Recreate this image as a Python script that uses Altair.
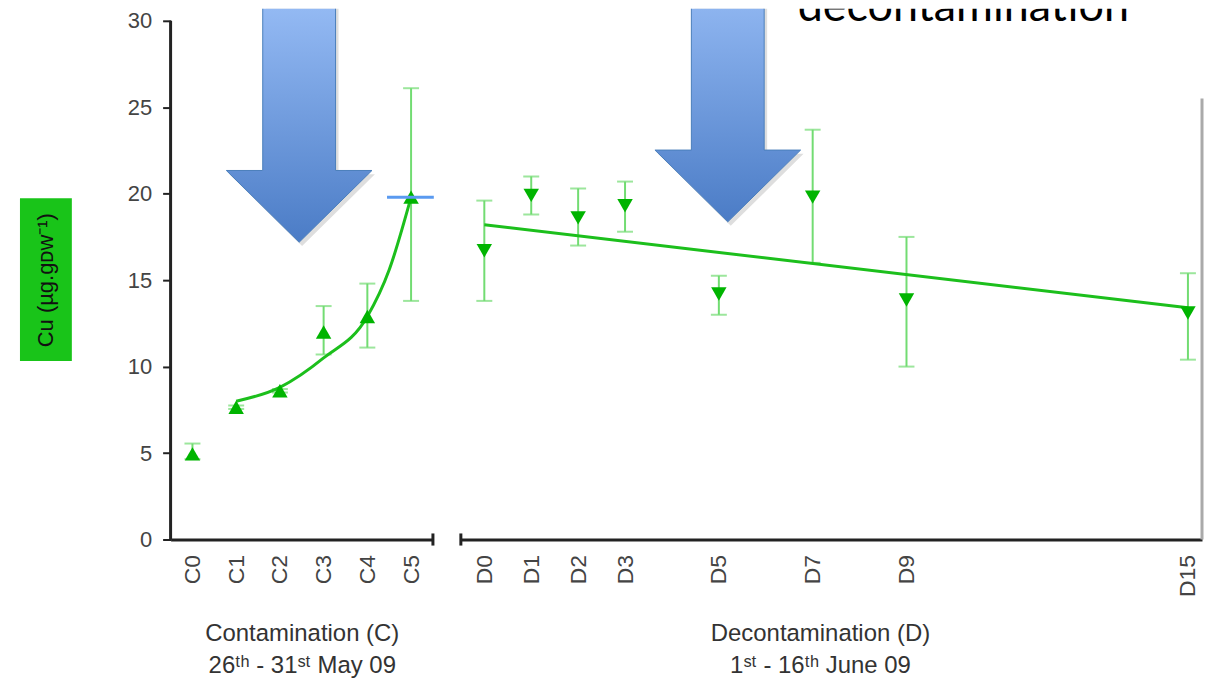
import altair as alt
import pandas as pd

# ---------------- data ----------------
C_labels = ["C0", "C1", "C2", "C3", "C4", "C5"]
C_idx = [0, 1, 2, 3, 4, 5]
C_mean = [4.95, 7.65, 8.6, 12.0, 12.9, 19.8]
C_low = [4.65, 7.55, 8.5, 10.7, 11.1, 13.8]
C_high = [5.55, 7.75, 8.7, 13.5, 14.8, 26.1]
C_fit_x = [1, 2, 3, 4, 4.5, 5]
C_fit_y = [8.0, 8.8, 10.5, 12.9, 15.6, 19.8]

D_labels = ["D0", "D1", "D2", "D3", "D5", "D7", "D9", "D15"]
D_days = [0, 1, 2, 3, 5, 7, 9, 15]
D_mean = [16.7, 19.9, 18.6, 19.3, 14.2, 19.8, 13.85, 13.1]
D_low = [13.8, 18.8, 17.0, 17.8, 13.0, 16.0, 10.0, 10.4]
D_high = [19.6, 21.0, 20.3, 20.7, 15.25, 23.7, 17.5, 15.4]
D_fit_x = [0, 15]
D_fit_y = [18.2, 13.4]

Y_ticks = [0, 5, 10, 15, 20, 25, 30]

C_title = ["Contamination (C)", "26ᵗʰ - 31ˢᵗ May 09"]
D_title = ["Decontamination (D)", "1ˢᵗ - 16ᵗʰ June 09"]
Y_title = "Cu (µg.gᴅᴡ⁻¹)"
TOP_TEXT = "decontamination"

# arrow annotations: tip position (x, y) in each panel's data units
ARROW_C_tip = [2.44, 17.19]
ARROW_D_tip = [5.19, 18.37]
ARROW_PATH = "M0,0L-1,-0.986L-0.5,-0.986L-0.5,-4L0.5,-4L0.5,-0.986L1,-0.986Z"
ARROW_SIZE = 146 * 146

# ---------------- styles ----------------
MK = "#00b400"
LINE = "#1cbf1c"
EB = "#72dc72"
AX = "#222222"
LAB = "#444444"
FONT = "Liberation Sans"
H = 532
WC = 263
WD = 743

yscale = alt.Scale(domain=[0, 30.69], nice=False, zero=False)
cscale = alt.Scale(domain=[-0.5, 5.5], nice=False, zero=False)
dscale = alt.Scale(domain=[-0.5, 15.3], nice=False, zero=False)

c_lab_expr = "[" + ",".join("'%s'" % l for l in C_labels) + "][datum.value]"
d_lab_expr = "'D' + datum.value"


def xaxis(values, expr, title, title_x=None):
    kw = dict(
        values=values, labelExpr=expr, labelAngle=270, labelFontSize=23,
        labelColor=LAB, labelFont=FONT, ticks=False, tickSize=0, labelPadding=15,
        labelOverlap=False, domainColor=AX, domainWidth=3, grid=False,
        title=title, titleFont=FONT, titleFontSize=24, titleFontWeight="normal",
        titleColor="#333333", titleBaseline="top", titleY=82, titleLineHeight=32,
    )
    if title_x is not None:
        kw["titleX"] = title_x
    return alt.Axis(**kw)


c_xaxis = xaxis(C_idx, c_lab_expr, C_title)
d_xaxis = xaxis(D_days, d_lab_expr, D_title, title_x=360)
c_yaxis = alt.Axis(values=Y_ticks, domain=False, tickSize=8, tickWidth=2, tickColor=AX,
                   labelFontSize=22, labelColor=LAB, labelFont=FONT, labelPadding=11,
                   grid=False, title=None)

grad = alt.LinearGradient(
    gradient="linear", x1=0, y1=0, x2=0, y2=1,
    stops=[alt.GradientStop(offset=0, color="#b4d1fa"),
           alt.GradientStop(offset=0.2, color="#93b9f3"),
           alt.GradientStop(offset=1, color="#4b7cc6")],
)


def panel(xscale, xax, yax, idx, mean, low, high, fx, fy, shape, extra, width):
    X = lambda f="x": alt.X(f, type="quantitative", scale=xscale, axis=xax)
    Y = lambda f="y": alt.Y(f, type="quantitative", scale=yscale, axis=yax)
    pts = pd.DataFrame({"x": idx, "y": mean, "lo": low, "hi": high})
    caps = pd.DataFrame({"x": idx + idx, "y": low + high})
    fit = pd.DataFrame({"x": fx, "y": fy})

    err = alt.Chart(pts).mark_rule(color=EB, strokeWidth=2).encode(
        x=X(), y=Y("lo"), y2="hi")
    cap = alt.Chart(caps).mark_tick(orient="horizontal", size=16, thickness=2, color=EB).encode(
        x=X(), y=Y())
    line = alt.Chart(fit).mark_line(color=LINE, strokeWidth=3, interpolate="monotone").encode(
        x=X(), y=Y())
    mk = alt.Chart(pts).mark_point(shape=shape, filled=True, size=240, color=MK, opacity=1).encode(
        x=X(), y=Y())
    layers = [err, cap, line, mk]
    for e in extra:
        layers.append(e(X, Y))
    return alt.layer(*layers).properties(width=width, height=H)


def arrow_layers(tip, dxu):
    def f(X, Y):
        shadow = pd.DataFrame({"x": [tip[0] + dxu], "y": [tip[1] - 0.22]})
        main = pd.DataFrame({"x": [tip[0]], "y": [tip[1]]})
        sh = alt.Chart(shadow).mark_point(
            shape=ARROW_PATH, size=ARROW_SIZE, filled=True, color="#000000",
            opacity=0.13, strokeWidth=0, clip=True).encode(x=X(), y=Y())
        ar = alt.Chart(main).mark_point(
            shape=ARROW_PATH, size=ARROW_SIZE, filled=True, fill=grad, opacity=1,
            fillOpacity=1, stroke="#4a7ebb", strokeWidth=1, clip=True).encode(x=X(), y=Y())
        return alt.layer(sh, ar)
    return f


# ---- extra layers for the C panel ----
def c_axisline(X, Y):
    df = pd.DataFrame({"x": [-0.5], "y": [0], "y2": [30]})
    return alt.Chart(df).mark_rule(color=AX, strokeWidth=3).encode(x=X(), y=Y(), y2="y2")


def c_endcap(X, Y):
    df = pd.DataFrame({"x": [5.5], "y": [-0.35], "y2": [0.35]})
    return alt.Chart(df).mark_rule(color=AX, strokeWidth=3).encode(x=X(), y=Y(), y2="y2")


def c_blue(X, Y):
    df = pd.DataFrame({"x": [4.45], "x2": [5.52], "y": [19.8]})
    return alt.Chart(df).mark_rule(color="#5a9af0", strokeWidth=3).encode(x=X(), x2="x2", y=Y())


def c_box(X, Y):
    return alt.Chart(pd.DataFrame({"a": [0]})).mark_rect(color="#19c419").encode(
        x=alt.value(-151), x2=alt.value(-99), y=alt.value(190), y2=alt.value(353))


def c_ytext(X, Y):
    return alt.Chart(pd.DataFrame({"a": [0]})).mark_text(
        text=Y_title, angle=270, fontSize=22, font=FONT, color="#111111",
        align="center", baseline="middle").encode(x=alt.value(-125), y=alt.value(272))


# ---- extra layers for the D panel ----
def d_startcap(X, Y):
    df = pd.DataFrame({"x": [-0.5], "y": [-0.35], "y2": [0.35]})
    return alt.Chart(df).mark_rule(color=AX, strokeWidth=3).encode(x=X(), y=Y(), y2="y2")


def d_edge(X, Y):
    df = pd.DataFrame({"x": [15.3], "y": [0], "y2": [25.5]})
    return alt.Chart(df).mark_rule(color="#aaaaaa", strokeWidth=3).encode(x=X(), y=Y(), y2="y2")


def d_text(X, Y):
    df = pd.DataFrame({"x": [6.68], "y": [30.0], "t": [TOP_TEXT]})
    return alt.Chart(df).mark_text(
        font="Lato", fontSize=45, color="#000000", align="left", baseline="alphabetic",
        clip=True).encode(x=X(), y=Y(), text="t:N")


left = panel(cscale, c_xaxis, c_yaxis, C_idx, C_mean, C_low, C_high, C_fit_x, C_fit_y,
             "triangle-up",
             [c_axisline, c_endcap, c_blue, arrow_layers(ARROW_C_tip, 0.068), c_box, c_ytext], WC)
right = panel(dscale, d_xaxis, None, D_days, D_mean, D_low, D_high, D_fit_x, D_fit_y,
              "triangle-down",
              [d_startcap, d_edge, arrow_layers(ARROW_D_tip, 0.064), d_text], WD)

chart = alt.hconcat(left, right, spacing=23).properties(
    padding={"left": 12, "top": 0, "right": 0, "bottom": 0},
    background="white",
).configure_view(stroke=None, strokeWidth=0)

chart.save("out.html", embed_options={"renderer": "svg", "actions": False})
